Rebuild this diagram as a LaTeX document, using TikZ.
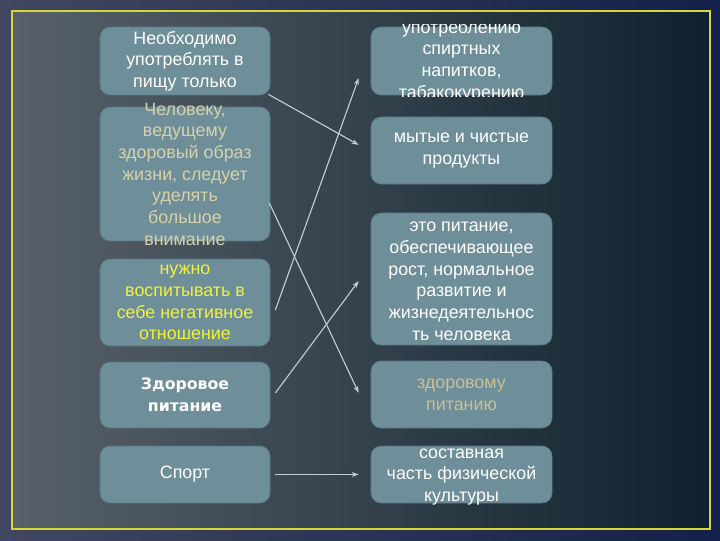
\documentclass[tikz,border=0pt]{standalone}
\usepackage{fontspec}
\setmainfont{Liberation Sans}
\newfontfamily\widefont{DejaVu Sans}
\usetikzlibrary{arrows.meta}
\definecolor{outerleft}{HTML}{41475F}
\definecolor{outerright}{HTML}{13204A}
\definecolor{bgleft}{HTML}{58616A}
\definecolor{bgmid}{HTML}{3A4651}
\definecolor{bgright}{HTML}{0E222D}
\definecolor{frameyellow}{HTML}{D7D53A}
\definecolor{boxfill}{HTML}{6E8E99}
\definecolor{boxedge}{HTML}{587680}
\definecolor{linkgrey}{HTML}{C5CCD0}
\definecolor{khaki}{HTML}{D8D2AA}
\definecolor{tan}{HTML}{CBBF95}
\definecolor{lemon}{HTML}{F2F23A}
\begin{document}
\begin{tikzpicture}[x=0.025cm, y=-0.025cm,
    box/.style={rounded corners=0.25cm, fill=boxfill, draw=boxedge, line width=0.4pt, inner sep=0pt},
    lbox/.style={box, minimum width=4.25cm},
    rbox/.style={box, minimum width=4.525cm},
    txt/.style={align=center, text=white, inner sep=0pt, font=\fontsize{12.7}{15.4}\selectfont},
    link/.style={draw=linkgrey, line width=0.8pt, -{Stealth[length=5pt,width=3.5pt]}}]
        \useasboundingbox (0,0) rectangle (720,540);
        \shade[left color=outerleft, right color=outerright] (0,0) rectangle (720,540);
        \shade[left color=bgleft, middle color=bgmid, right color=bgright] (12,11) rectangle (710,529);
        \draw[frameyellow, line width=0.05cm] (12,11) rectangle (710,529);

        \node[lbox, minimum height=1.7cm]   at (185, 61)    (l1) {};
        \node[lbox, minimum height=3.35cm]  at (185, 174)   (l2) {};
        \node[lbox, minimum height=2.175cm] at (185, 302.5) (l3) {};
        \node[lbox, minimum height=1.65cm]  at (185, 395)   (l4) {};
        \node[lbox, minimum height=1.425cm] at (185, 474.5) (l5) {};

        \node[rbox, minimum height=1.7cm]   at (461.5, 61)    (r1) {};
        \node[rbox, minimum height=1.675cm] at (461.5, 150.5) (r2) {};
        \node[rbox, minimum height=3.3cm]   at (461.5, 279)   (r3) {};
        \node[rbox, minimum height=1.675cm] at (461.5, 394.5) (r4) {};
        \node[rbox, minimum height=1.425cm] at (461.5, 474.5) (r5) {};

        \node[txt] at (l1) (l1t) {Необходимо\\ употреблять в\\ пищу только};
        \node[txt, text=khaki] at (l2) (l2t) {Человеку,\\ ведущему\\ здоровый образ\\ жизни, следует\\ уделять\\ большое\\ внимание};
        \node[txt, text=lemon] at (l3) (l3t) {нужно\\ воспитывать в\\ себе негативное\\ отношение};
        \node[txt, font=\widefont\bfseries\fontsize{11.2}{15.6}\selectfont] at (l4) (l4t) {Здоровое\\ питание};
        \node[txt] at (l5) (l5t) {Спорт};

        \begin{scope}
          \clip (371,24) rectangle (552,96);
          \node[txt] at (r1) (r1t) {употреблению\\ спиртных\\ напитков,\\ табакокурению};
        \end{scope}
        \node[txt] at (r2) (r2t) {мытые и чистые\\ продукты};
        \node[txt] at ([yshift=-0.06cm]r3) (r3t) {это питание,\\ обеспечивающее\\ рост, нормальное\\ развитие и\\ жизнедеятельнос\\ ть человека};
        \node[txt, text=tan] at (r4) (r4t) {здоровому\\ питанию};
        \node[txt] at ([yshift=-0.06cm]r5) (r5t) {составная\\ часть физической\\ культуры};

        \draw[link] ([xshift=-0.05cm,yshift=0.025cm]l1.south east) -- ([xshift=-0.3cm,yshift=0.14cm]r2.west);
        \draw[link] ([xshift=-0.025cm,yshift=-0.725cm]l2.east) -- ([xshift=-0.3cm,yshift=0.04cm]r4.west);
        \draw[link] ([xshift=0.125cm,yshift=-0.19cm]l3.east) -- ([xshift=-0.3cm,yshift=-0.425cm]r1.west);
        \draw[link] ([xshift=0.125cm,yshift=0.05cm]l4.east) -- ([xshift=-0.3cm,yshift=-0.05cm]r3.west);
        \draw[link] ([xshift=0.125cm]l5.east) -- ([xshift=-0.3cm]r5.west);
\end{tikzpicture}
\end{document}
